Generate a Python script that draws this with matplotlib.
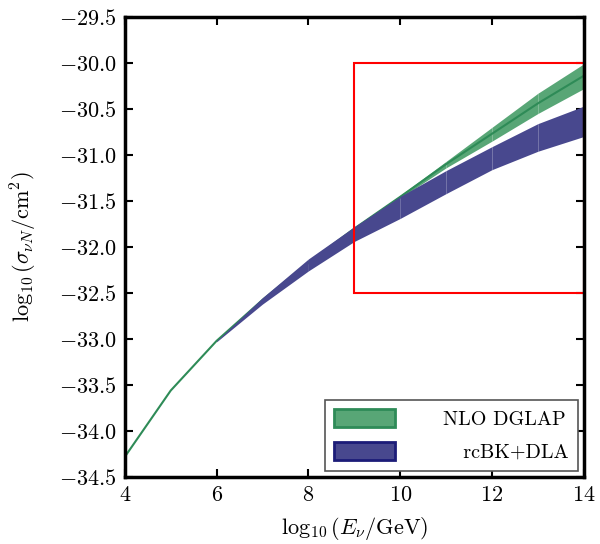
import matplotlib
matplotlib.use("Agg")
import matplotlib.pyplot as plt
from matplotlib.patches import Patch, Rectangle

plt.rcParams["font.family"] = "serif"
plt.rcParams["font.serif"] = ["cmr10"]
plt.rcParams["mathtext.fontset"] = "cm"
plt.rcParams["axes.formatter.use_mathtext"] = True

# NLO DGLAP band (log10 E vs log10 sigma)
e_green = [4, 5, 6, 7, 8, 9, 10, 11, 12, 13, 14]
green_lo = [-34.28, -33.56, -33.02, -32.58, -32.18, -31.81, -31.47, -31.14, -30.85, -30.55, -30.28]
green_hi = [-34.28, -33.56, -33.02, -32.57, -32.16, -31.79, -31.44, -31.07, -30.70, -30.33, -30.01]
green_mid = [-34.28, -33.56, -33.02, -32.575, -32.17, -31.80, -31.455, -31.10, -30.77, -30.44, -30.14]

# rcBK+DLA band
e_blue = [6, 7, 8, 9, 10, 11, 12, 13, 14]
blue_lo = [-33.03, -32.62, -32.26, -31.94, -31.69, -31.42, -31.16, -30.96, -30.80]
blue_hi = [-33.02, -32.55, -32.13, -31.78, -31.45, -31.17, -30.91, -30.66, -30.47]

labels = ["NLO DGLAP", "   rcBK+DLA"]

green_fill = "#58a676"
green_line = "#2e8b57"
blue_fill = "#48488e"

fig = plt.figure(figsize=(6, 5.44), dpi=100)
ax = fig.add_axes([0.208, 0.123, 0.765, 0.846])

# each segment drawn on its own, which leaves faint seams at the knots
for i in range(len(e_green) - 1):
    ax.fill_between(e_green[i:i + 2], green_lo[i:i + 2], green_hi[i:i + 2],
                    color=green_fill, lw=0, zorder=1)
ax.plot(e_green, green_mid, color=green_line, lw=1.5, zorder=1.5)
for i in range(len(e_blue) - 1):
    ax.fill_between(e_blue[i:i + 2], blue_lo[i:i + 2], blue_hi[i:i + 2],
                    color=blue_fill, lw=0, zorder=2)

# zoom box
ax.add_patch(Rectangle((9, -32.5), 5, 2.5, fill=False, ec="red", lw=1.5,
                       zorder=2.2))

ax.set_xlim(4, 14)
ax.set_ylim(-34.5, -29.5)
ax.set_xticks([4, 6, 8, 10, 12, 14])
ax.set_yticks([-34.5, -34.0, -33.5, -33.0, -32.5, -32.0, -31.5, -31.0, -30.5, -30.0, -29.5])
ax.set_yticklabels(["$-%.1f$" % (-v) for v in ax.get_yticks()])
ax.set_xticklabels(["$%d$" % v for v in [4, 6, 8, 10, 12, 14]])
ax.tick_params(direction="in", top=True, right=True, length=6, width=1.5,
               labelsize=16, pad=6)
for s in ax.spines.values():
    s.set_linewidth(2.5)

ax.set_xlabel(r"$\log_{10}(E_\nu/\mathrm{GeV})$", fontsize=16, labelpad=7)
ax.set_ylabel(r"$\log_{10}(\sigma_{\nu N}/\mathrm{cm}^2)$", fontsize=16, labelpad=14)

handles = [Patch(facecolor=green_fill, edgecolor=green_line, lw=2),
           Patch(facecolor=blue_fill, edgecolor="#1c1c78", lw=2)]
leg = ax.legend(handles, labels, loc="lower right",
                fontsize=14.5, fancybox=False, edgecolor="#555555",
                handlelength=3.0, handleheight=1.0, handletextpad=2.4,
                labelspacing=0.65, borderpad=0.45,
                borderaxespad=0.3, framealpha=1)
leg.get_frame().set_linewidth(1.2)

fig.savefig("out.png", dpi=100)
